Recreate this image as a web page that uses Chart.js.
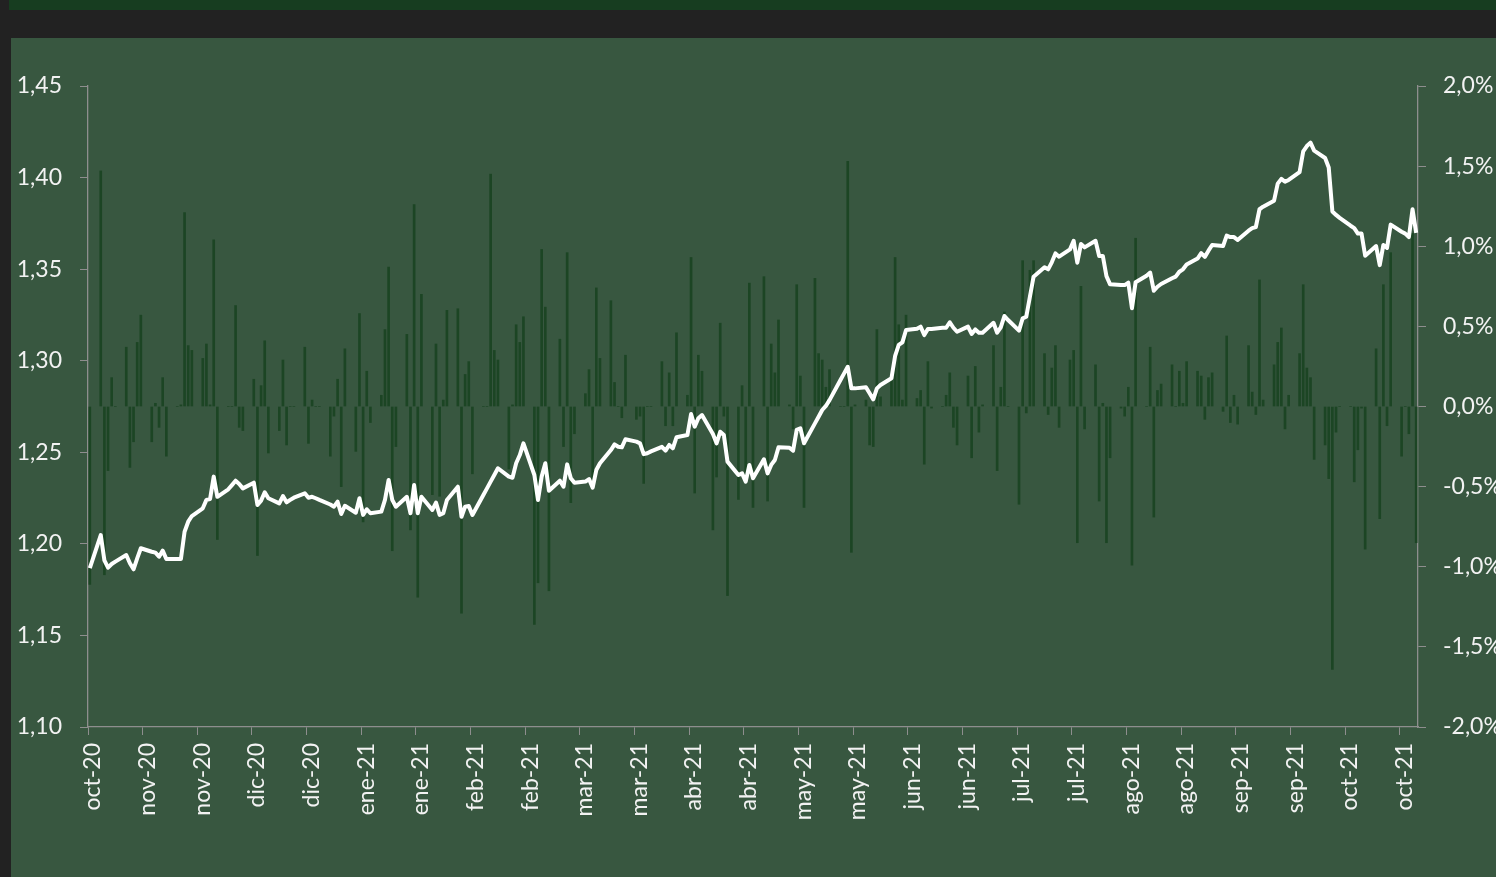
<!DOCTYPE html>
<html lang="es">
<head>
<meta charset="utf-8">
<title>Cotización y variación diaria</title>
<script src="https://cdn.jsdelivr.net/npm/chart.js@4.4.1/dist/chart.umd.min.js"></script>
<style>
  html, body { margin: 0; padding: 0; background: #222222; }
  #wrap { width: 1496px; height: 877px; }
  canvas { display: block; }
</style>
</head>
<body>
<div id="wrap"><canvas id="fxChart" width="1496" height="877"></canvas></div>
<script>
// Daily series, one row per week (Mon..Fri). Week 0 only holds the first Friday.
const RATE_WEEKS = [
  [1.1868],
  [1.2048, 1.1910, 1.1870, 1.1890, 1.1903],
  [1.1939, 1.1894, 1.1861, 1.1921, 1.1976],
  [1.1957, 1.1952, 1.1930, 1.1963, 1.1917],
  [1.1917, 1.1917, 1.2066, 1.2121, 1.2152],
  [1.2194, 1.2240, 1.2245, 1.2367, 1.2257],
  [1.2298, 1.2321, 1.2345, 1.2327, 1.2303],
  [1.2334, 1.2212, 1.2236, 1.2282, 1.2249],
  [1.2221, 1.2261, 1.2227, 1.2240, 1.2252],
  [1.2276, 1.2252, 1.2257, 1.2249, 1.2240],
  [1.2215, 1.2203, 1.2230, 1.2163, 1.2208],
  [1.2170, 1.2249, 1.2158, 1.2189, 1.2167],
  [1.2176, 1.2240, 1.2349, 1.2240, 1.2203],
  [1.2257, 1.2167, 1.2321, 1.2167, 1.2257],
  [1.2185, 1.2225, 1.2158, 1.2167, 1.2240],
  [1.2312, 1.2148, 1.2203, 1.2207, 1.2158],
  [1.2267, 1.2303, 1.2340, 1.2376, 1.2413],
  [1.2367, 1.2361, 1.2440, 1.2485, 1.2549],
  [1.2376, 1.2240, 1.2367, 1.2440, 1.2290],
  [1.2345, 1.2312, 1.2434, 1.2358, 1.2334],
  [1.2340, 1.2354, 1.2307, 1.2403, 1.2440],
  [1.2512, 1.2543, 1.2530, 1.2527, 1.2571],
  [1.2558, 1.2549, 1.2490, 1.2495, 1.2505],
  [1.2530, 1.2509, 1.2540, 1.2522, 1.2582],
  [1.2594, 1.2709, 1.2640, 1.2686, 1.2703],
  [1.2600, 1.2549, 1.2612, 1.2594, 1.2449],
  [1.2376, 1.2385, 1.2340, 1.2431, 1.2358],
  [1.2462, 1.2385, 1.2431, 1.2458, 1.2527],
  [1.2525, 1.2509, 1.2622, 1.2631, 1.2549],
  [1.2658, 1.2694, 1.2731, 1.2753, 1.2785],
  [1.2895, 1.2931, 1.2967, 1.2849, 1.2849],
  [1.2855, 1.2822, 1.2789, 1.2849, 1.2867],
  [1.2904, 1.3026, 1.3086, 1.3100, 1.3168],
  [1.3175, 1.3186, 1.3140, 1.3173, 1.3173],
  [1.3180, 1.3180, 1.3210, 1.3180, 1.3158],
  [1.3186, 1.3146, 1.3171, 1.3153, 1.3153],
  [1.3207, 1.3153, 1.3182, 1.3244, 1.3222],
  [1.3164, 1.3231, 1.3240, 1.3350, 1.3459],
  [1.3510, 1.3499, 1.3537, 1.3586, 1.3568],
  [1.3608, 1.3655, 1.3535, 1.3637, 1.3619],
  [1.3655, 1.3572, 1.3572, 1.3462, 1.3417],
  [1.3413, 1.3413, 1.3426, 1.3286, 1.3428],
  [1.3464, 1.3481, 1.3382, 1.3404, 1.3419],
  [1.3450, 1.3459, 1.3486, 1.3499, 1.3525],
  [1.3558, 1.3587, 1.3567, 1.3601, 1.3632],
  [1.3626, 1.3683, 1.3675, 1.3675, 1.3659],
  [1.3710, 1.3724, 1.3730, 1.3827, 1.3841],
  [1.3874, 1.3967, 1.3993, 1.3977, 1.3987],
  [1.4030, 1.4143, 1.4172, 1.4191, 1.4147],
  [1.4107, 1.4055, 1.3815, 1.3796, 1.3780],
  [1.3737, 1.3724, 1.3694, 1.3694, 1.3573],
  [1.3626, 1.3522, 1.3632, 1.3616, 1.3743],
  [1.3704, 1.3694, 1.3675, 1.3827, 1.3698]
];

// daily change, in %
const CHANGE_WEEKS = [
  [-1.11],
  [1.47, -1.05, -0.40, 0.18, 0],
  [0.37, -0.38, -0.22, 0.40, 0.57],
  [-0.22, 0.02, -0.13, 0.18, -0.31],
  [0, 0.01, 1.21, 0.38, 0.35],
  [0.30, 0.39, 0.01, 1.04, -0.83],
  [0, 0, 0.63, -0.13, -0.15],
  [0.17, -0.93, 0.13, 0.41, -0.29],
  [-0.15, 0.29, -0.24, 0, 0],
  [0.37, -0.23, 0.04, 0, 0],
  [-0.31, -0.06, 0.17, -0.50, 0.36],
  [-0.28, 0.58, -0.72, 0.22, -0.10],
  [0.07, 0.48, 0.87, -0.90, -0.25],
  [0.45, -0.77, 1.26, -1.19, 0.70],
  [-0.55, 0.39, -0.56, 0.04, 0.60],
  [0.61, -1.29, 0.20, 0.28, -0.42],
  [0, 0, 1.45, 0.35, 0.29],
  [-0.39, 0.01, 0.51, 0.40, 0.56],
  [-1.36, -1.10, 0.98, 0.62, -1.15],
  [0.42, -0.25, 0.96, -0.60, -0.17],
  [0.08, 0.23, -0.51, 0.74, 0.30],
  [0.66, 0.15, 0, -0.07, 0.32],
  [-0.08, -0.06, -0.48, 0, 0],
  [0.28, -0.12, 0.21, -0.12, 0.46],
  [0.07, 0.93, -0.54, 0.32, 0.22],
  [-0.77, -0.44, 0.52, -0.06, -1.18],
  [-0.58, 0.13, -0.43, 0.77, -0.63],
  [0.81, -0.59, 0.39, 0.21, 0.54],
  [0.01, -0.14, 0.76, 0.19, -0.63],
  [0.80, 0.33, 0.29, 0.12, 0.23],
  [0, 0, 1.53, -0.91, 0.01],
  [0.04, -0.24, -0.25, 0.48, 0.06],
  [0.17, 0.93, 0.51, 0.04, 0.57],
  [0.05, 0.10, -0.36, 0.28, -0.01],
  [0, 0.07, 0.21, -0.13, -0.24],
  [0.19, -0.32, 0.25, -0.16, 0.01],
  [0.38, -0.40, 0.12, 0.59, 0],
  [-0.61, 0.91, -0.04, 0.85, 0.91],
  [0.33, -0.05, 0.24, 0.38, -0.13],
  [0.29, 0.35, -0.85, 0.75, -0.14],
  [0.26, -0.59, 0.02, -0.85, -0.32],
  [-0.01, -0.06, 0.12, -0.99, 1.05],
  [0, 0.37, -0.69, 0.10, 0.14],
  [0.26, 0, 0.22, 0.02, 0.28],
  [0.22, 0.19, -0.08, 0.18, 0.21],
  [-0.03, 0.44, -0.10, 0.07, -0.11],
  [0.38, 0.09, -0.05, 0.79, 0.04],
  [0.26, 0.40, 0.49, -0.14, 0.07],
  [0.33, 0.76, 0.24, 0.18, -0.33],
  [-0.24, -0.45, -1.64, -0.16, 0],
  [0, -0.47, -0.27, -0.01, -0.89],
  [0.36, -0.70, 0.76, -0.12, 0.96],
  [-0.31, 0, -0.17, 1.08, -0.85]
];

// one label every 15 calendar days
const TICK_LABELS = [
  'oct-20', 'nov-20', 'nov-20', 'dic-20', 'dic-20', 'ene-21', 'ene-21',
  'feb-21', 'feb-21', 'mar-21', 'mar-21', 'abr-21', 'abr-21', 'may-21',
  'may-21', 'jun-21', 'jun-21', 'jul-21', 'jul-21', 'ago-21', 'ago-21',
  'sep-21', 'sep-21', 'oct-21', 'oct-21'
];
const TICK_EVERY = 15;
const N_DAYS = 365;   // 23-oct-2020 .. 22-oct-2021, one slot per calendar day

const AXIS = '#8e8e8e';
const TXT = '#f2f2f2';
const FONT = { family: 'Lato, "Open Sans", sans-serif', size: 23 };

// place trading days on the calendar (week 0 = first Friday, then Mon..Fri)
function toCalendar(weeks) {
  const out = new Array(N_DAYS).fill(null);
  weeks.forEach((row, w) => {
    row.forEach((v, j) => {
      const day = w === 0 ? 0 : 7 * w - 4 + j;
      out[day] = v;
    });
  });
  return out;
}

const dayLabels = Array.from({ length: N_DAYS }, (_, i) => i);
const rateSeries = toCalendar(RATE_WEEKS);
const changeSeries = toCalendar(CHANGE_WEEKS);

const panelBg = {
  id: 'panelBg',
  beforeDraw(chart) {
    const c = chart.ctx;
    c.save();
    c.fillStyle = '#222222';
    c.fillRect(0, 0, chart.width, chart.height);
    c.fillStyle = '#173d20';
    c.fillRect(9, 0, chart.width - 9, 10);
    c.fillStyle = '#385740';
    c.fillRect(11, 38, chart.width - 11, chart.height - 38);
    c.restore();
  }
};

new Chart(document.getElementById('fxChart'), {
  type: 'bar',
  data: {
    labels: dayLabels,
    datasets: [
      {
        type: 'line',
        label: 'Cotización',
        data: rateSeries,
        yAxisID: 'y',
        borderColor: '#ffffff',
        borderWidth: 4,
        borderJoinStyle: 'round',
        pointRadius: 0,
        tension: 0,
        spanGaps: true,
        order: 0
      },
      {
        type: 'bar',
        label: 'Variación diaria',
        data: changeSeries,
        yAxisID: 'y1',
        backgroundColor: '#1c4524',
        barThickness: 2,
        order: 1
      }
    ]
  },
  options: {
    responsive: false,
    animation: false,
    layout: { padding: { top: 86, left: 0, right: 0, bottom: 0 } },
    plugins: { legend: { display: false }, tooltip: { enabled: false } },
    scales: {
      x: {
        type: 'category',
        offset: true,
        grid: {
          offset: true,
          drawOnChartArea: false,
          tickLength: 8,
          tickColor: ctx => (ctx.index % TICK_EVERY === 0 ? AXIS : 'rgba(0,0,0,0)')
        },
        border: { color: AXIS, width: 1.3 },
        ticks: {
          autoSkip: false,
          maxRotation: 90,
          minRotation: 90,
          padding: 8,
          labelOffset: 3,
          color: TXT,
          font: FONT,
          callback: (v, i) => (i % TICK_EVERY === 0 ? TICK_LABELS[i / TICK_EVERY] : '')
        },
        afterFit: s => { s.height = 150; }
      },
      y: {
        position: 'left',
        min: 1.10,
        max: 1.45,
        grid: { drawOnChartArea: false, tickLength: 8, color: AXIS },
        border: { color: AXIS, width: 1.3 },
        ticks: {
          stepSize: 0.05,
          padding: 18,
          color: TXT,
          font: FONT,
          callback: v => v.toFixed(2).replace('.', ',')
        },
        afterFit: s => { s.width = 88; }
      },
      y1: {
        position: 'right',
        min: -2,
        max: 2,
        grid: { drawOnChartArea: false, tickLength: 8, color: AXIS },
        border: { color: AXIS, width: 1.3 },
        ticks: {
          stepSize: 0.5,
          padding: 17,
          color: TXT,
          font: FONT,
          callback: v => v.toFixed(1).replace('.', ',') + '%'
        },
        afterFit: s => { s.width = 78; }
      }
    }
  },
  plugins: [panelBg]
});
</script>
</body>
</html>
